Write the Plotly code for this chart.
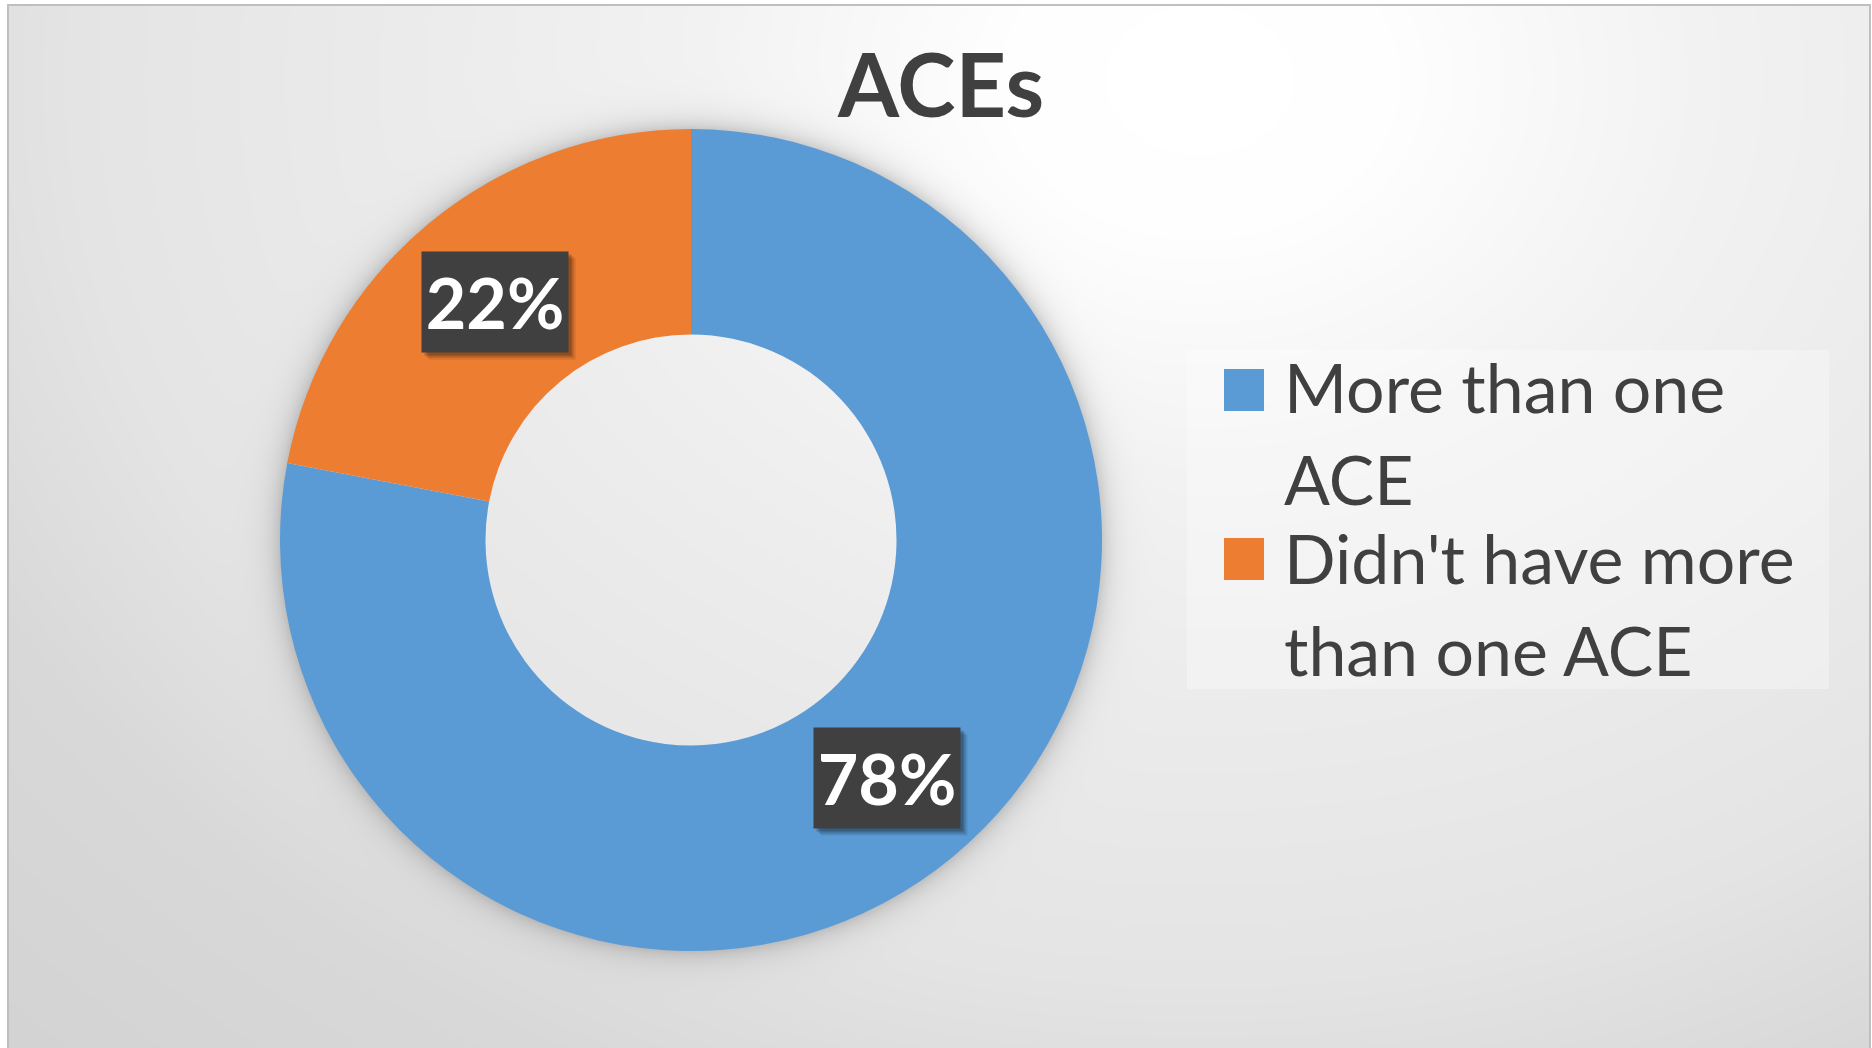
import base64
import struct
import textwrap
import zlib

import numpy as np
import plotly.graph_objects as go

# ---- data ----
categories = ["More than one ACE", "Didn't have more than one ACE"]
values = [78, 22]
colors = ["#5B9BD5", "#ED7D31"]
title_text = "ACEs"

# ---- canvas geometry (pixels) ----
W, H = 1872, 1048
CX, CY = 691, 540          # donut centre
R_OUT = 411                # outer radius
HOLE = 0.5
FRAME = (8, 5, 1870, 1049)  # chart-area frame: left, top, right, bottom

TXT = "#404040"
FONT = "Lato"


def px(x):
    return x / W


def py(y):
    return 1 - y / H


def png_data_uri(gray):
    """Encode a 2-D uint8 array as a grayscale PNG data URI."""
    h, w = gray.shape
    raw = np.empty((h, w + 1), dtype=np.uint8)
    raw[:, 0] = 1  # "Sub" filter on every row
    raw[:, 1:] = (np.diff(gray.astype(np.int16), axis=1, prepend=0) & 255).astype(np.uint8)
    comp = zlib.compress(raw.tobytes(), 9)

    def chunk(tag, data):
        body = tag + data
        return struct.pack(">I", len(data)) + body + struct.pack(">I", zlib.crc32(body) & 0xFFFFFFFF)

    png = (b"\x89PNG\r\n\x1a\n"
           + chunk(b"IHDR", struct.pack(">IIBBBBB", w, h, 8, 0, 0, 0, 0))
           + chunk(b"IDAT", comp)
           + chunk(b"IEND", b""))
    return "data:image/png;base64," + base64.b64encode(png).decode()


# ---- chart-area fill: soft radial gradient + glow shadow under the ring ----
fx0, fy0, fx1, fy1 = FRAME[0] + 1, FRAME[1] + 1, FRAME[2] - 1, FRAME[3]
gx = np.arange(fx0, fx1) + 0.5
gy = np.arange(fy0, fy1) + 0.5
X, Y = np.meshgrid(gx, gy)
d = np.sqrt(((X - 1200) / 1250.0) ** 2 + ((Y - 80) / 1000.0) ** 2)
shade = np.interp(d, [0.0, 0.15, 0.4, 0.6, 0.9, 1.1, 1.4],
                  [255, 254, 242, 236, 228, 216, 210])
r = np.sqrt((X - CX) ** 2 + (Y - CY) ** 2)
glow = np.where(r >= R_OUT - 2, 0.17 * np.exp(-np.clip(r - R_OUT, 0, None) / 12.0), 0.0)
shade = shade * (1 - glow)
bg_uri = png_data_uri(np.clip(np.round(shade), 0, 255).astype(np.uint8))

fig = go.Figure()

fig.add_trace(go.Pie(
    labels=categories,
    values=values,
    marker=dict(colors=colors, line=dict(width=0)),
    hole=HOLE,
    sort=False,
    direction="clockwise",
    rotation=0,
    textinfo="none",
    hoverinfo="label+percent",
    showlegend=False,
    domain=dict(x=[px(CX - R_OUT), px(CX + R_OUT)],
                y=[py(CY + R_OUT), py(CY - R_OUT)]),
))

annotations = []
shapes = []

# frame around the chart area
shapes.append(dict(type="rect", xref="paper", yref="paper",
                   x0=px(FRAME[0]), x1=px(FRAME[2]), y0=py(FRAME[3] + 10), y1=py(FRAME[1]),
                   line=dict(color="#BFBFBF", width=2), fillcolor="rgba(0,0,0,0)", layer="above"))

# data labels: dark boxes centred on the ring at each slice's mid-angle
total = float(sum(values))
r_mid = R_OUT * (1 + HOLE) / 2
cum = 0.0
BOX_W, BOX_H = 146, 100
for v in values:
    ang = 2 * np.pi * (cum + v / 2) / total
    cum += v
    lx = CX + r_mid * np.sin(ang)
    ly = CY - r_mid * np.cos(ang)
    pct = f"{round(100 * v / total)}%"
    for sx, sy, a in [(7, -7, 0.10), (5, -5, 0.15), (3, -3, 0.2)]:
        annotations.append(dict(x=px(lx), y=py(ly), xref="paper", yref="paper",
                                xanchor="center", yanchor="middle",
                                text=" ", showarrow=False, width=BOX_W, height=BOX_H,
                                xshift=sx, yshift=sy, borderpad=0,
                                bgcolor=f"rgba(0,0,0,{a})", font=dict(size=10)))
    annotations.append(dict(x=px(lx), y=py(ly), xref="paper", yref="paper",
                            xanchor="center", yanchor="middle",
                            text=f"<b>{pct}</b>", showarrow=False,
                            width=BOX_W, height=BOX_H, borderpad=0,
                            bgcolor="#404040", align="center", valign="middle",
                            font=dict(family=FONT, size=70, color="white")))

# title
annotations.append(dict(x=px(940), y=py(83), xref="paper", yref="paper",
                        text=f"<b>{title_text}</b>", showarrow=False,
                        xanchor="center", yanchor="middle",
                        font=dict(family=FONT, size=88, color=TXT)))

# legend panel
shapes.append(dict(type="rect", xref="paper", yref="paper",
                   x0=px(1187), x1=px(1829), y0=py(689), y1=py(350),
                   line=dict(width=0), fillcolor="rgba(255,255,255,0.3)", layer="below"))

legend_rows = [(369, [413, 504]), (538, [583, 675])]
for (mk_top, baselines), label, col in zip(legend_rows, categories, colors):
    shapes.append(dict(type="rect", xref="paper", yref="paper",
                       x0=px(1224), x1=px(1264), y0=py(mk_top + 42), y1=py(mk_top),
                       line=dict(width=0), fillcolor=col, layer="above"))
    for line, base in zip(textwrap.wrap(label, 16), baselines):
        annotations.append(dict(x=px(1282), y=py(base - 26), xref="paper", yref="paper",
                                text=line, showarrow=False, xanchor="left", yanchor="middle",
                                font=dict(family=FONT, size=68, color=TXT)))

fig.update_layout(
    width=W, height=H, autosize=False,
    margin=dict(l=0, r=0, t=0, b=0),
    paper_bgcolor="white", plot_bgcolor="white",
    showlegend=False,
    images=[dict(source=bg_uri, xref="paper", yref="paper",
                 x=px(fx0), y=py(fy0), sizex=px(fx1) - px(fx0), sizey=py(fy0) - py(fy1),
                 xanchor="left", yanchor="top", sizing="stretch", layer="below")],
    shapes=shapes,
    annotations=annotations,
)

fig.write_html("out.html")
